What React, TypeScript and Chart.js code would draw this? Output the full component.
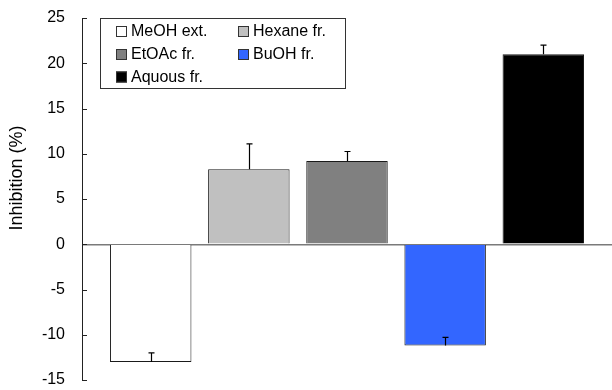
import React, { useEffect, useRef } from "react";
import { Chart, registerables } from "chart.js";

Chart.register(...registerables);

const categories = ["MeOH ext.", "Hexane fr.", "EtOAc fr.", "BuOH fr.", "Aquous fr."];
const values = [-13.0, 8.3, 9.2, -11.2, 21.0];
const errors = [1.0, 2.8, 1.05, 0.9, 1.0];
const yTicks = [-15, -10, -5, 0, 5, 10, 15, 20, 25];
const colors = ["#ffffff", "#c0c0c0", "#808080", "#3366ff", "#000000"];
const yTitle = "Inhibition (%)";
const FONT = "'Liberation Sans', Arial, sans-serif";

const errorBarPlugin = {
  id: "errorBars",
  afterDatasetsDraw(chart: any) {
    const ctx = chart.ctx;
    const yScale = chart.scales.y;
    ctx.save();
    ctx.strokeStyle = "#000";
    ctx.lineWidth = 1.2;
    chart.data.datasets.forEach((ds: any, i: number) => {
      const meta = chart.getDatasetMeta(i);
      const bar = meta.data[0];
      if (!bar) return;
      const v = values[i];
      const e = errors[i];
      const x = Math.round(bar.x) + 0.5;
      const y0 = yScale.getPixelForValue(v);
      const y1 = yScale.getPixelForValue(v + e);
      ctx.beginPath();
      ctx.moveTo(x, y0);
      ctx.lineTo(x, y1);
      ctx.moveTo(x - 3, y1);
      ctx.lineTo(x + 3, y1);
      ctx.stroke();
    });
    ctx.restore();
  },
};

const decorPlugin = {
  id: "decor",
  afterDraw(chart: any) {
    const ctx = chart.ctx;
    const yScale = chart.scales.y;
    const area = chart.chartArea;
    ctx.save();
    // inward tick marks
    ctx.strokeStyle = "#222";
    ctx.lineWidth = 1;
    yScale.ticks.forEach((t: any) => {
      const y = Math.round(yScale.getPixelForValue(t.value)) + 0.5;
      ctx.beginPath();
      ctx.moveTo(area.left, y);
      ctx.lineTo(area.left + 5, y);
      ctx.stroke();
    });
    // y title
    ctx.fillStyle = "#000";
    ctx.font = `18px ${FONT}`;
    ctx.textAlign = "center";
    ctx.textBaseline = "middle";
    ctx.translate(17, 178);
    ctx.rotate(-Math.PI / 2);
    ctx.fillText(yTitle, 0, 0);
    ctx.restore();

    // legend
    ctx.save();
    const bx = 100, by = 18, bw = 245, bh = 70;
    ctx.fillStyle = "#fff";
    ctx.fillRect(bx, by, bw, bh);
    ctx.strokeStyle = "#333";
    ctx.lineWidth = 1;
    ctx.strokeRect(bx + 0.5, by + 0.5, bw, bh);
    ctx.font = `16px ${FONT}`;
    ctx.textAlign = "left";
    ctx.textBaseline = "middle";
    const colX = [116, 238];
    const rowY = [31.5, 54.5, 77];
    chart.data.datasets.forEach((ds: any, i: number) => {
      const col = i % 2;
      const row = Math.floor(i / 2);
      const sx = colX[col];
      const sy = rowY[row];
      ctx.fillStyle = ds.backgroundColor;
      ctx.fillRect(sx, sy - 5.5, 11, 11);
      ctx.strokeStyle = "#333";
      ctx.strokeRect(sx + 0.5, sy - 5.5 + 0.5, 10, 10);
      ctx.fillStyle = "#000";
      ctx.fillText(ds.label, sx + 15, sy + 0.5);
    });
    ctx.restore();
  },
};

export default function App() {
  const ref = useRef<HTMLCanvasElement>(null);
  useEffect(() => {
    document.body.style.margin = "0";
    const canvas = ref.current;
    if (!canvas) return;
    const chart = new Chart(canvas, {
      type: "bar",
      data: {
        datasets: categories.map((c, i) => ({
          label: c,
          data: [{ x: i, y: values[i] }],
          backgroundColor: colors[i],
          borderColor: "#1a1a1a",
          borderWidth: 1,
          grouped: false,
          barPercentage: 0.83,
          categoryPercentage: 1,
        })),
      } as any,
      options: {
        responsive: false,
        animation: false,
        devicePixelRatio: 1,
        layout: { padding: { top: 18, bottom: 10, left: 0, right: 0 } },
        plugins: { legend: { display: false }, tooltip: { enabled: false } },
        scales: {
          x: {
            type: "linear",
            display: false,
            offset: false,
            min: -0.7,
            max: 4.7,
            ticks: { stepSize: 1, includeBounds: false, display: false },
            grid: { display: false, offset: false },
            afterFit: (s: any) => {
              s.height = 0;
              s.paddingLeft = 0;
              s.paddingRight = 0;
            },
          },
          y: {
            type: "linear",
            min: -15,
            max: 25,
            afterFit: (s: any) => {
              s.width = 82;
              s.paddingTop = 0;
              s.paddingBottom = 0;
            },
            afterBuildTicks: (s: any) => {
              s.ticks = yTicks.map((v) => ({ value: v }));
            },
            ticks: {
              color: "#000",
              padding: 17,
              font: { family: FONT, size: 16 },
            },
            border: { display: true, color: "#222", width: 1 },
            grid: {
              drawTicks: false,
              lineWidth: 1.5,
              color: (c: any) => (c.tick && c.tick.value === 0 ? "#7a7a7a" : "rgba(0,0,0,0)"),
            },
          },
        },
      } as any,
      plugins: [errorBarPlugin, decorPlugin],
    });
    return () => chart.destroy();
  }, []);
  return (
    <div style={{ width: 612, height: 390 }}>
      <canvas ref={ref} width={612} height={390} />
    </div>
  );
}
